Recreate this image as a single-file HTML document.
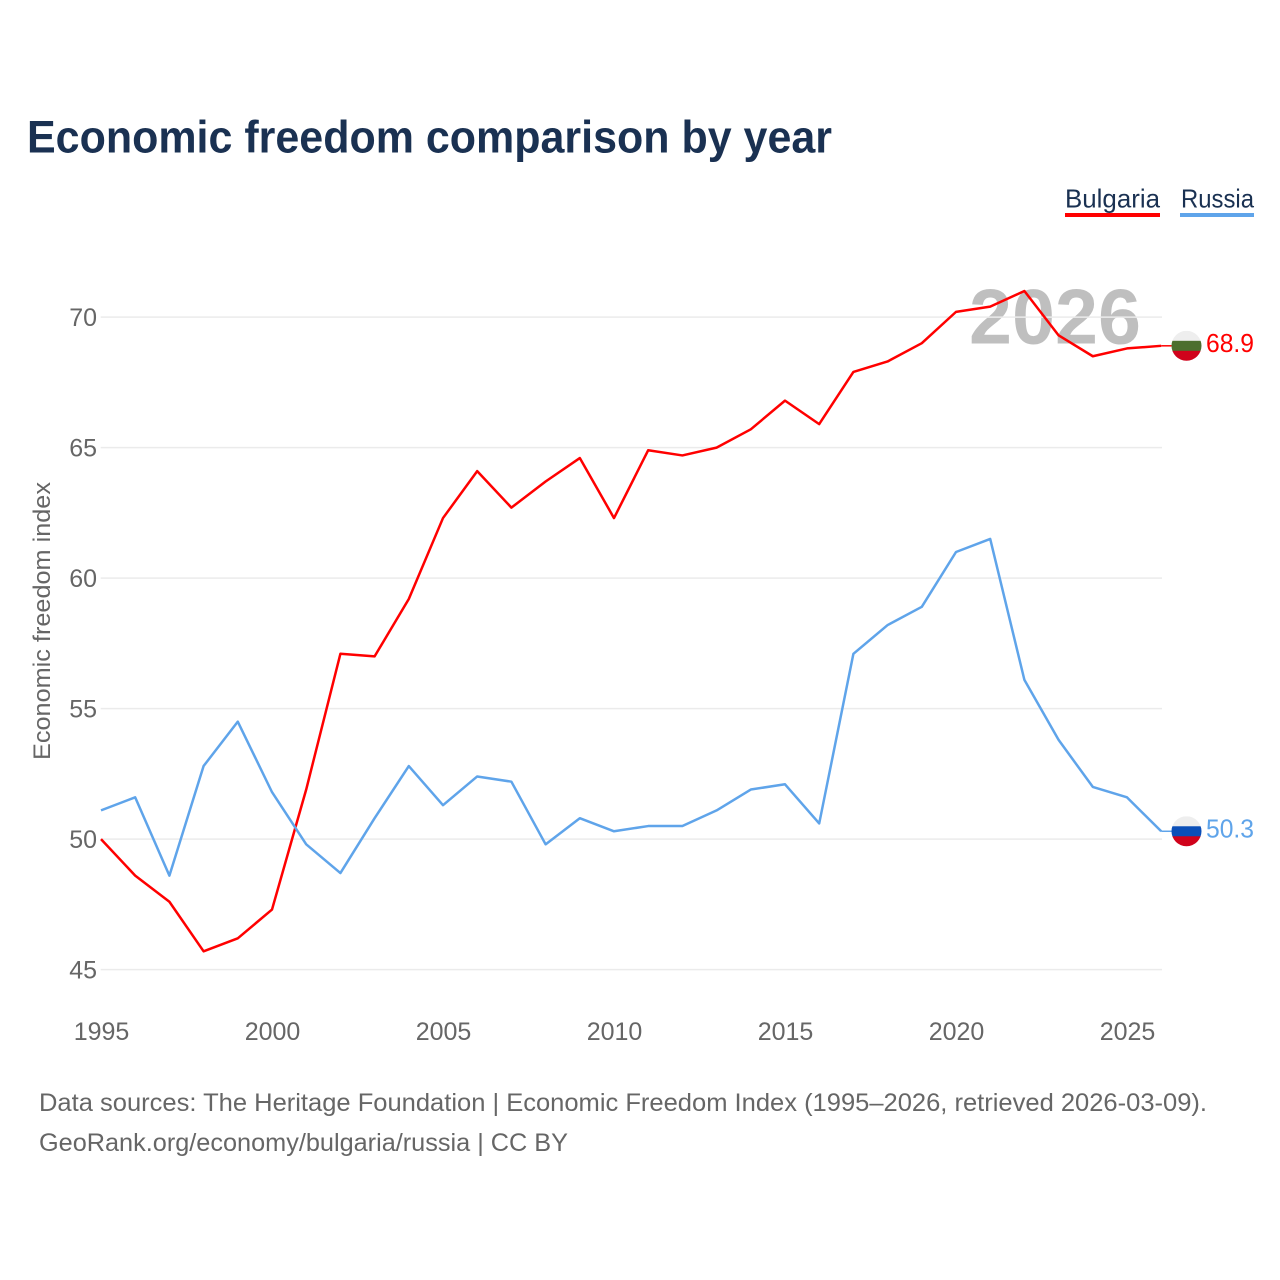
<!DOCTYPE html>
<html lang="en">
<head>
<meta charset="utf-8">
<title>Economic freedom comparison by year</title>
<style>
  html, body { margin: 0; padding: 0; background: #fff; }
  svg { display: block; font-family: "Liberation Sans", sans-serif; }
</style>
</head>
<body>
<svg id="chart" xmlns="http://www.w3.org/2000/svg" width="1280" height="1280" viewBox="0 0 1280 1280">
  <rect x="0" y="0" width="1280" height="1280" fill="#ffffff"/>
  <text x="27" y="152.5" font-size="45" font-weight="700" fill="#1a3152" textLength="805" lengthAdjust="spacingAndGlyphs">Economic freedom comparison by year</text>

  <text x="1065" y="207.5" font-size="26" fill="#1a3152" textLength="95" lengthAdjust="spacingAndGlyphs">Bulgaria</text>
  <rect x="1065" y="213" width="95" height="4" fill="#ff0000"/>
  <text x="1181" y="207.5" font-size="26" fill="#1a3152" textLength="73" lengthAdjust="spacingAndGlyphs">Russia</text>
  <rect x="1180" y="213" width="74" height="4" fill="#5fa4ea"/>

  <text x="969" y="343.5" font-size="78" font-weight="700" fill="#000000" fill-opacity="0.25" textLength="172" lengthAdjust="spacingAndGlyphs">2026</text>

  <g id="grid"></g>
  <g id="y-ticks"></g>
  <g id="x-ticks"></g>
  <text transform="translate(50 621) rotate(-90)" text-anchor="middle" font-size="24" fill="#666666" textLength="278" lengthAdjust="spacingAndGlyphs">Economic freedom index</text>
  <g id="series"></g>
  <g id="ends"></g>

  <text x="39" y="1111" font-size="25" fill="#666666" textLength="1168" lengthAdjust="spacingAndGlyphs">Data sources: The Heritage Foundation | Economic Freedom Index (1995–2026, retrieved 2026-03-09).</text>
  <text x="39" y="1151" font-size="25" fill="#666666" textLength="529" lengthAdjust="spacingAndGlyphs">GeoRank.org/economy/bulgaria/russia | CC BY</text>
</svg>
<script>
const years = [1995,1996,1997,1998,1999,2000,2001,2002,2003,2004,2005,2006,2007,2008,2009,2010,2011,2012,2013,2014,2015,2016,2017,2018,2019,2020,2021,2022,2023,2024,2025,2026];
const bulgariaValues = [50.0,48.6,47.6,45.7,46.2,47.3,51.9,57.1,57.0,59.2,62.3,64.1,62.7,63.7,64.6,62.3,64.9,64.7,65.0,65.7,66.8,65.9,67.9,68.3,69.0,70.2,70.4,71.0,69.3,68.5,68.8,68.9];
const russiaValues = [51.1,51.6,48.6,52.8,54.5,51.8,49.8,48.7,50.8,52.8,51.3,52.4,52.2,49.8,50.8,50.3,50.5,50.5,51.1,51.9,52.1,50.6,57.1,58.2,58.9,61.0,61.5,56.1,53.8,52.0,51.6,50.3];
const yTickValues = [45,50,55,60,65,70];
const xTickValues = [1995,2000,2005,2010,2015,2020,2025];

const NS = 'http://www.w3.org/2000/svg';
function xScale(year) { return 101 + (year - 1995) * 34.2; }
function yScale(value) { return 969.6 - (value - 45) * 26.1; }
function make(tag, attrs, parent) {
  const el = document.createElementNS(NS, tag);
  for (const k in attrs) el.setAttribute(k, attrs[k]);
  parent.appendChild(el);
  return el;
}

const gridGroup = document.getElementById('grid');
const yTickGroup = document.getElementById('y-ticks');
yTickValues.forEach(function (v) {
  const line = make('line', { x1: 100.7, x2: 1162, y1: yScale(v), y2: yScale(v), stroke: '#ebebeb', 'stroke-width': 1.5 }, gridGroup);
  
  
  const label = make('text', { x: 97, y: yScale(v) + 9, 'text-anchor': 'end', 'font-size': 25, fill: '#666666' }, yTickGroup);
  label.textContent = v;
  
  
});

const xTickGroup = document.getElementById('x-ticks');
xTickValues.forEach(function (y) {
  const label = make('text', { x: xScale(y) + 0.5, y: 1040, 'text-anchor': 'middle', 'font-size': 25, fill: '#666666' }, xTickGroup);
  label.textContent = y;
  
  
});

const seriesGroup = document.getElementById('series');
const endGroup = document.getElementById('ends');

function drawSeries(key, values, color, stripes) {
  const points = values.map(function (v, i) { return xScale(years[i]) + ',' + yScale(v); }).join(' ');
  const line = make('polyline', { points: points, fill: 'none', stroke: color, 'stroke-width': 2.5, 'stroke-linejoin': 'round' }, seriesGroup);
  
  

  const last = values[values.length - 1];
  const lastX = xScale(years[years.length - 1]);
  const lastY = yScale(last);
  const cx = 1186.5;
  const r = 15;

  const stub = make('line', { x1: lastX, x2: cx - r, y1: lastY, y2: lastY, stroke: color, 'stroke-width': 1.5 }, endGroup);
  
  

  const clipId = 'clip-' + key;
  const clip = make('clipPath', { id: clipId }, endGroup);
  make('circle', { cx: cx, cy: lastY, r: r }, clip);
  const flag = make('g', { 'clip-path': 'url(#' + clipId + ')' }, endGroup);
  
  
  const h = (2 * r) / 3;
  stripes.forEach(function (c, i) {
    make('rect', { x: cx - r, y: lastY - r + i * h, width: 2 * r, height: h + 0.5, fill: c }, flag);
  });

  const label = make('text', { x: 1206, y: lastY + 6, 'font-size': 25.5, fill: color, textLength: 48, lengthAdjust: 'spacingAndGlyphs' }, endGroup);
  label.textContent = last.toFixed(1);
  
  
}

drawSeries('bulgaria', bulgariaValues, '#ff0000', ['#eeeeee', '#4c6f2e', '#d0021b']);
drawSeries('russia', russiaValues, '#5fa4ea', ['#eeeeee', '#0b4fb8', '#d0021b']);
</script>
</body>
</html>
